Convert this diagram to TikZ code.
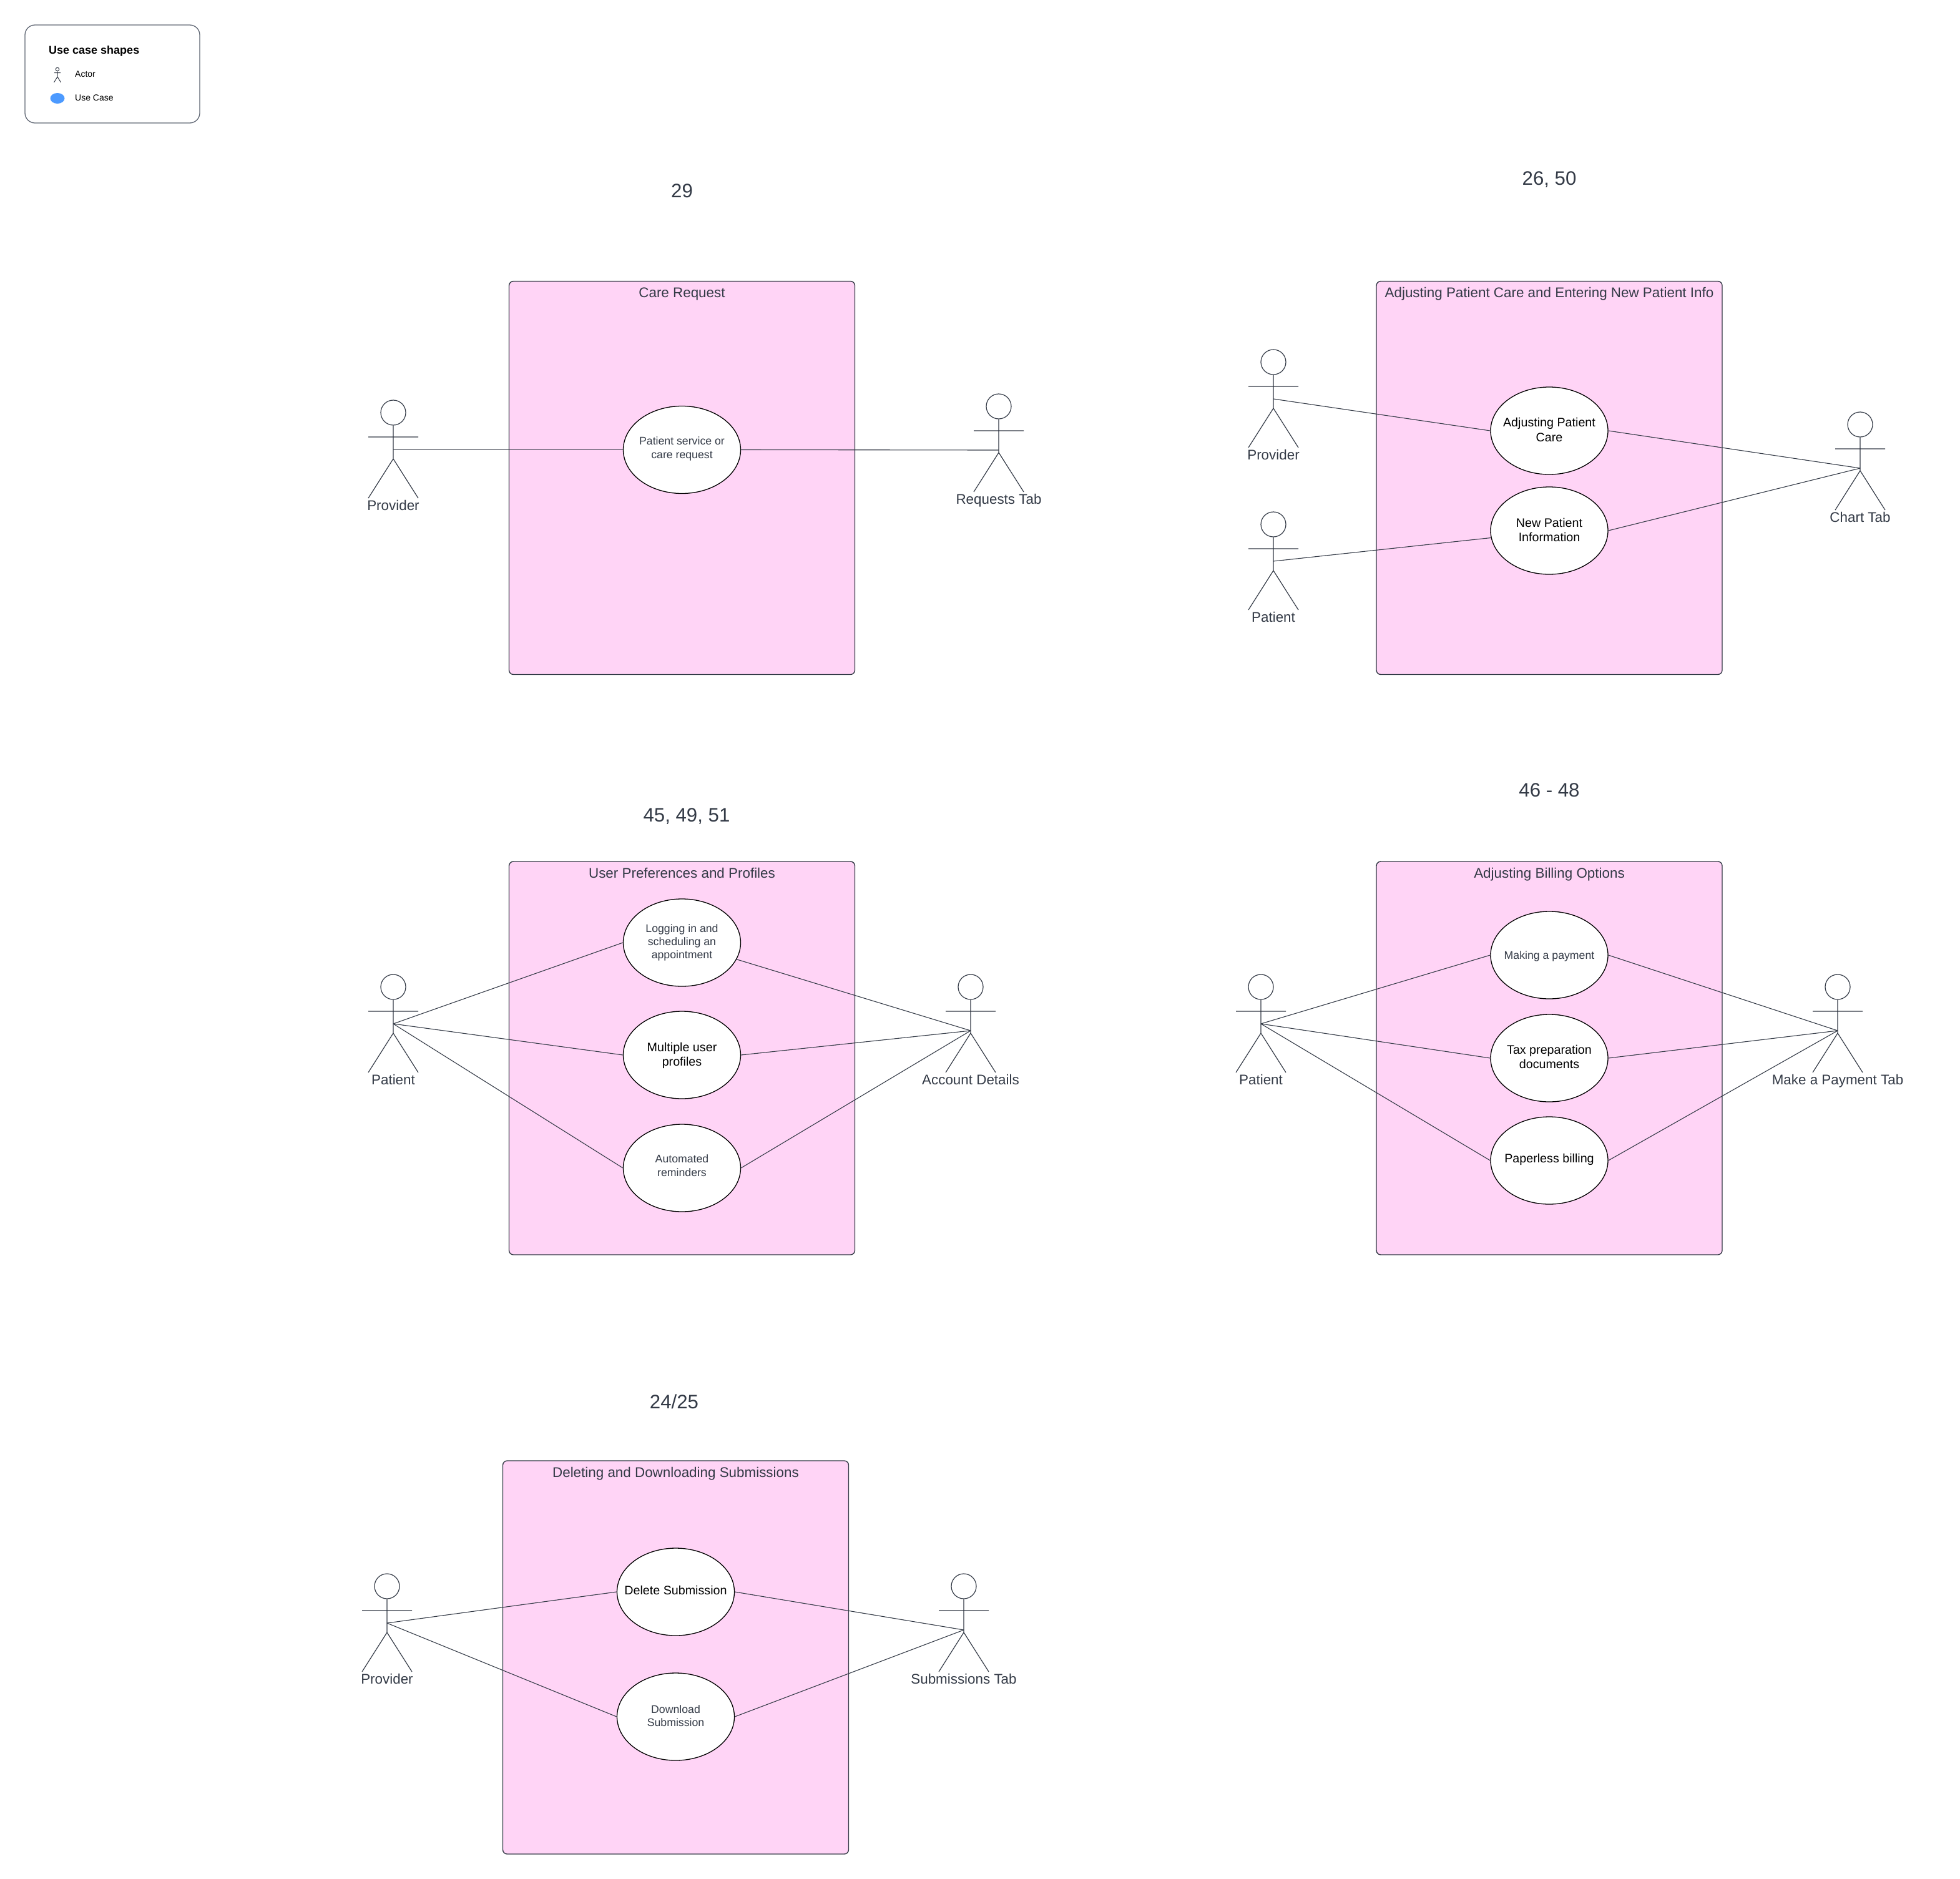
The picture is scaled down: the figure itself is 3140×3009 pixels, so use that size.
\documentclass[tikz,border=0pt]{standalone}
\usepackage{fontspec}
\setmainfont{Liberation Sans}
\usetikzlibrary{shapes.geometric}
\definecolor{ink}{HTML}{333A46}
\definecolor{pinkfill}{HTML}{FFD4F6}
\definecolor{legendblue}{HTML}{4C9AFF}
\definecolor{legendedge}{HTML}{5F6673}
\tikzset{
  sysbox/.style={draw=ink,line width=1.4pt,fill=pinkfill,rounded corners=7pt,minimum width=554pt,minimum height=630pt,inner sep=0pt},
  boxtitle/.style={text=ink,font=\fontsize{22.4}{27}\selectfont,inner sep=0pt,anchor=base},
  heading/.style={text=ink,font=\fontsize{31.2}{35}\selectfont,inner sep=0pt},
  usecase/.style={ellipse,draw=black,line width=1.3pt,fill=white,minimum width=188pt,minimum height=140pt,inner sep=0pt},
  uctextgrey/.style={align=center,inner sep=0pt,text=ink,font=\fontsize{17.7}{21.3}\selectfont},
  uctextblack/.style={align=center,inner sep=0pt,text=black,font=\fontsize{19.7}{23.6}\selectfont},
  actorhead/.style={circle,draw=ink,line width=1.2pt,minimum size=40pt,inner sep=0pt},
  actorline/.style={draw=ink,line width=1.2pt},
  actorlabel/.style={text=ink,font=\fontsize{22.4}{27}\selectfont,inner sep=0pt,anchor=base},
  link/.style={draw=ink,line width=1.1pt},
  legendtext/.style={text=black,font=\fontsize{14}{17}\selectfont,anchor=west,inner sep=0pt},
}
% name, x, top, hub offset, label
\newcommand{\actorfig}[5]{
  \node[actorhead] (#1) at (#2,#3+20) {};
  \coordinate (#1-hip) at (#2,#3+94);
  \coordinate (#1-hub) at (#2,#3+#4);
  \coordinate (#1-al) at (#2-40,#3+59);
  \coordinate (#1-ar) at (#2+40,#3+59);
  \coordinate (#1-fl) at (#2-40,#3+157);
  \coordinate (#1-fr) at (#2+40,#3+157);
  \draw[actorline] (#1.south) -- (#1-hip) (#1-al) -- (#1-ar) (#1-fl) -- (#1-hip) -- (#1-fr);
  \node[actorlabel] (#1-label) at (#2,#3+176.5) {#5};
}
% name, x, y, text style, text shift up, text
\newcommand{\ucasefig}[6]{
  \node[usecase] (#1) at (#2,#3) {};
  \node[#4,yshift=#5pt] (#1-text) at (#1) {#6};
}
\begin{document}
\begin{tikzpicture}[x=1pt,y=-1pt]
\useasboundingbox (0,0) rectangle (3140,3009);
\fill[white] (0,0) rectangle (3140,3009);

% legend
\node[draw=legendedge,line width=1.3pt,rounded corners=16pt,minimum width=280pt,minimum height=157pt,inner sep=0pt] (legend) at (180,118.5) {};
\node[text=black,font=\bfseries\fontsize{18}{22}\selectfont,anchor=west,inner sep=0pt] (legendtitle) at (78,81.5) {Use case shapes};
\node[circle,draw=ink,line width=1pt,minimum size=5.5pt,inner sep=0pt] (lacthead) at (92,111) {};
\coordinate (lachip) at (92,123);
\coordinate (lacal) at (87,116.5);
\coordinate (lacar) at (97,116.5);
\coordinate (lacfl) at (86.5,132);
\coordinate (lacfr) at (97.5,132);
\draw[ink,line width=1pt] (lacthead.south) -- (lachip) (lacal) -- (lacar) (lacfl) -- (lachip) -- (lacfr);
\node[legendtext] (lact) at (120,118.5) {Actor};
\node[ellipse,fill=legendblue,minimum width=23pt,minimum height=17pt,inner sep=0pt] (luc) at (92,157.5) {};
\node[legendtext] (luct) at (120,156.5) {Use Case};

% headings
\node[heading] (h1) at (1092.5,306) {29};
\node[heading] (h2) at (2482,287.5) {26, 50};
\node[heading] (h3) at (1100,1307.5) {45, 49, 51};
\node[heading] (h4) at (2482,1266) {46 - 48};
\node[heading] (h5) at (1080,2245) {24/25};

% Care Request
\node[sysbox] (b1) at (1092.5,765.5) {};
\node[boxtitle] (t1) at (1092.5,476.5) {Care Request};
\ucasefig{c1}{1092.5}{720.5}{uctextgrey}{1.5}{Patient service or\\care request}
\actorfig{a1p}{630}{641}{79.5}{Provider}
\actorfig{a1r}{1600}{631}{90}{Requests Tab}
\draw[link] (a1p-hub) -- (c1.west);
\draw[link] (c1.east) -- (a1r-hub);

% Adjusting Patient Care
\node[sysbox] (b2) at (2482,765.5) {};
\node[boxtitle] (t2) at (2482,476.5) {Adjusting Patient Care and Entering New Patient Info};
\ucasefig{c2}{2482}{690}{uctextblack}{1.5}{Adjusting Patient\\Care}
\ucasefig{c3}{2482}{850}{uctextblack}{1}{New Patient\\Information}
\actorfig{a2p}{2040}{560}{79}{Provider}
\actorfig{a2t}{2040}{820}{79}{Patient}
\actorfig{a2c}{2980}{660}{90}{Chart Tab}
\draw[link] (a2p-hub) -- (c2.west);
\draw[link] (a2t-hub) -- (c3.187);
\draw[link] (c2.east) -- (a2c-hub);
\draw[link] (c3.east) -- (a2c-hub);

% User Preferences
\node[sysbox] (b3) at (1092.5,1695) {};
\node[boxtitle] (t3) at (1092.5,1406) {User Preferences and Profiles};
\ucasefig{c4}{1092.5}{1510}{uctextgrey}{0}{Logging in and\\scheduling an\\appointment}
\ucasefig{c5}{1092.5}{1690}{uctextblack}{-1}{Multiple user\\profiles}
\ucasefig{c6}{1092.5}{1871}{uctextgrey}{4}{Automated\\reminders}
\actorfig{a3p}{630}{1561}{79}{Patient}
\actorfig{a3a}{1555}{1561}{90}{Account Details}
\draw[link] (a3p-hub) -- (c4.west);
\draw[link] (a3p-hub) -- (c5.west);
\draw[link] (a3p-hub) -- (c6.west);
\draw[link] (c4.343) -- (a3a-hub);
\draw[link] (c5.east) -- (a3a-hub);
\draw[link] (c6.east) -- (a3a-hub);

% Billing
\node[sysbox] (b4) at (2482,1695) {};
\node[boxtitle] (t4) at (2482,1406) {Adjusting Billing Options};
\ucasefig{c7}{2482}{1530}{uctextgrey}{-2}{Making a payment}
\ucasefig{c8}{2482}{1695}{uctextblack}{2}{Tax preparation\\documents}
\ucasefig{c9}{2482}{1859}{uctextblack}{2}{Paperless billing}
\actorfig{a4p}{2020}{1561}{79}{Patient}
\actorfig{a4m}{2944}{1561}{90}{Make a Payment Tab}
\draw[link] (a4p-hub) -- (c7.west);
\draw[link] (a4p-hub) -- (c8.west);
\draw[link] (a4p-hub) -- (c9.west);
\draw[link] (c7.east) -- (a4m-hub);
\draw[link] (c8.east) -- (a4m-hub);
\draw[link] (c9.east) -- (a4m-hub);

% Submissions
\node[sysbox] (b5) at (1082.5,2655) {};
\node[boxtitle] (t5) at (1082.5,2366) {Deleting and Downloading Submissions};
\ucasefig{c10}{1082.5}{2550}{uctextblack}{3}{Delete Submission}
\ucasefig{c11}{1082.5}{2750}{uctextgrey}{1.5}{Download\\Submission}
\actorfig{a5p}{620}{2521}{79}{Provider}
\actorfig{a5s}{1544}{2521}{90}{Submissions Tab}
\draw[link] (a5p-hub) -- (c10.west);
\draw[link] (a5p-hub) -- (c11.west);
\draw[link] (c10.east) -- (a5s-hub);
\draw[link] (c11.east) -- (a5s-hub);
\end{tikzpicture}
\end{document}
